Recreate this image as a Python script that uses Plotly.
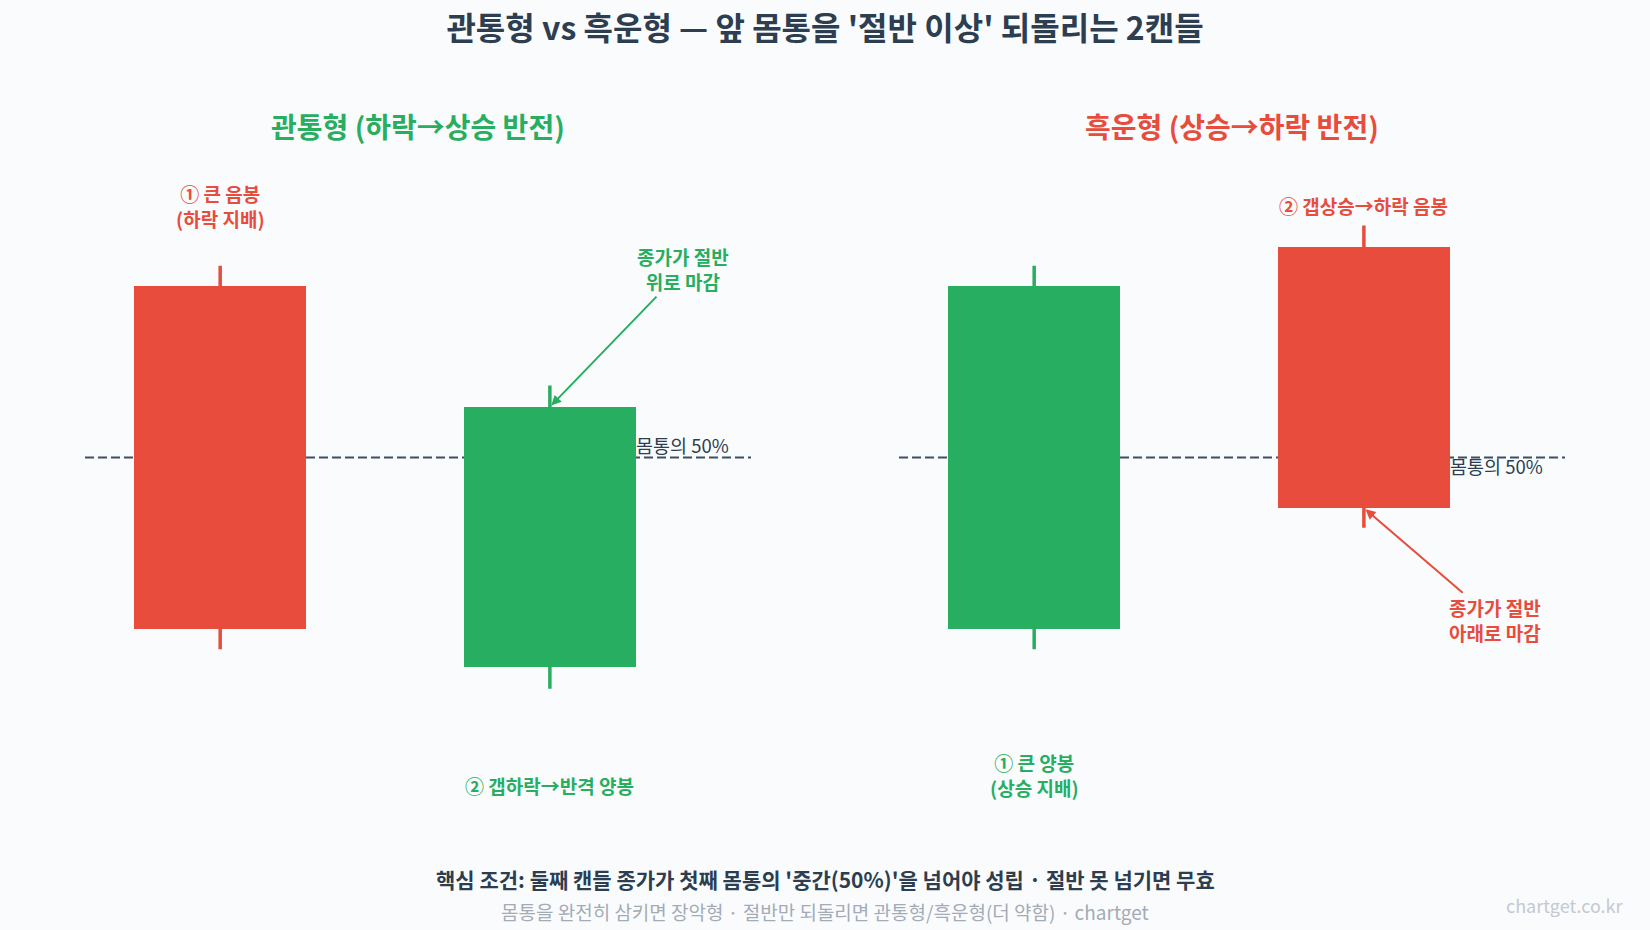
import plotly.graph_objects as go
from plotly.subplots import make_subplots

# ---- data ----
piercing_labels = ["① 큰 음봉<br>(하락 지배)", "② 갭하락→반격 양봉"]
piercing_open = [100.0, 77.75]
piercing_high = [101.2, 94.2]
piercing_low = [78.8, 76.5]
piercing_close = [80.0, 92.95]

darkcloud_labels = ["① 큰 양봉<br>(상승 지배)", "② 갭상승→하락 음봉"]
darkcloud_open = [80.0, 102.3]
darkcloud_high = [101.2, 103.55]
darkcloud_low = [78.8, 85.9]
darkcloud_close = [100.0, 87.05]

RED = "#e74c3c"
GREEN = "#27ae60"
DARK = "#2c3e50"
LINE = "#3d4f63"
FONT = "Noto Sans CJK KR"

fig = make_subplots(rows=1, cols=2, horizontal_spacing=0.1,
                    subplot_titles=["관통형 (하락→상승 반전)", "흑운형 (상승→하락 반전)"])


def add_candles(o, h, l, c, col):
    for i in range(len(o)):
        color = GREEN if c[i] >= o[i] else RED
        fig.add_trace(go.Bar(x=[i], y=[abs(c[i] - o[i])], base=[min(o[i], c[i])], width=0.52,
                             marker=dict(color=color, line=dict(width=0)), showlegend=False,
                             hoverinfo="skip"), row=1, col=col)
        fig.add_trace(go.Scatter(x=[i, i], y=[l[i], max(o[i], c[i])], mode="lines",
                                 line=dict(color=color, width=3.5), showlegend=False,
                                 hoverinfo="skip"), row=1, col=col)
        fig.add_trace(go.Scatter(x=[i, i], y=[min(o[i], c[i]), h[i]], mode="lines",
                                 line=dict(color=color, width=3.5), showlegend=False,
                                 hoverinfo="skip"), row=1, col=col)


add_candles(piercing_open, piercing_high, piercing_low, piercing_close, 1)
add_candles(darkcloud_open, darkcloud_high, darkcloud_low, darkcloud_close, 2)

mid_left = (piercing_open[0] + piercing_close[0]) / 2
mid_right = (darkcloud_open[0] + darkcloud_close[0]) / 2

for xr, yr, mid in [("x domain", "y", mid_left), ("x2 domain", "y2", mid_right)]:
    fig.add_shape(type="line", xref=xr, yref=yr, x0=0, x1=1, y0=mid, y1=mid,
                  line=dict(color=LINE, width=2, dash="9px,4px"), layer="below")

XR = [-0.41, 1.61]
YR = [70, 110]
for ax in ["xaxis", "xaxis2"]:
    fig.layout[ax].update(range=XR, visible=False, fixedrange=True)
for ax in ["yaxis", "yaxis2"]:
    fig.layout[ax].update(range=YR, visible=False, fixedrange=True)

W, H = 1650, 930
ML, MR, MT, MB = 85, 85, 115, 130
PW, PH = W - ML - MR, H - MT - MB

# subplot title styling
fig.layout.annotations[0].update(font=dict(size=28, color=GREEN, family=FONT, weight="bold"))
fig.layout.annotations[1].update(font=dict(size=28, color=RED, family=FONT, weight="bold"))
for a in fig.layout.annotations:
    a.update(yref="paper", y=(H - MB - 126) / PH, yanchor="middle", yshift=0)

AF = 19
ann = []
# candle labels
ann.append(dict(x=0, y=104.7, xref="x", yref="y", text=piercing_labels[0], showarrow=False,
                font=dict(size=AF, color=RED, family=FONT, weight="bold"), yanchor="middle"))
ann.append(dict(x=1, y=70.85, xref="x", yref="y", text=piercing_labels[1], showarrow=False,
                font=dict(size=AF, color=GREEN, family=FONT, weight="bold"), yanchor="middle"))
ann.append(dict(x=0, y=71.45, xref="x2", yref="y2", text=darkcloud_labels[0], showarrow=False,
                font=dict(size=AF, color=GREEN, family=FONT, weight="bold"), yanchor="middle"))
ann.append(dict(x=1, y=104.7, xref="x2", yref="y2", text=darkcloud_labels[1], showarrow=False,
                font=dict(size=AF, color=RED, family=FONT, weight="bold"), yanchor="middle"))
# 50% labels
ann.append(dict(x=1.55, y=mid_left, xref="x", yref="y", text="몸통의 50%", showarrow=False,
                xanchor="right", yanchor="bottom", yshift=-2, font=dict(size=18.5, color=DARK, family=FONT)))
ann.append(dict(x=1.55, y=mid_right, xref="x2", yref="y2", text="몸통의 50%", showarrow=False,
                xanchor="right", yanchor="top", yshift=7, font=dict(size=18.5, color=DARK, family=FONT)))
# arrows (tail offsets in axis units)
ann.append(dict(x=1, y=piercing_close[1], xref="x", yref="y", text="종가가 절반<br>위로 마감",
                showarrow=True, ax=1.404, ay=101.0, axref="x", ayref="y",
                arrowhead=2, arrowsize=1, arrowwidth=2, arrowcolor=GREEN, standoff=2,
                font=dict(size=AF, color=GREEN, family=FONT, weight="bold")))
ann.append(dict(x=1, y=darkcloud_close[1], xref="x2", yref="y2", text="종가가 절반<br>아래로 마감",
                showarrow=True, ax=1.397, ay=80.5, axref="x2", ayref="y2",
                arrowhead=2, arrowsize=1, arrowwidth=2, arrowcolor=RED, standoff=2,
                font=dict(size=AF, color=RED, family=FONT, weight="bold")))
# footer
ann.append(dict(x=0.5, y=879, xref="paper", yref="paper", yanchor="middle",
                text="<b>핵심 조건: 둘째 캔들 종가가 첫째 몸통의 '중간(50%)'을 넘어야 성립 · 절반 못 넘기면 무효</b>",
                showarrow=False, font=dict(size=21, color=DARK, family=FONT)))
ann.append(dict(x=0.5, y=912, xref="paper", yref="paper", yanchor="middle",
                text="몸통을 완전히 삼키면 장악형 · 절반만 되돌리면 관통형/흑운형(더 약함) · chartget",
                showarrow=False, font=dict(size=19, color="#a3abb7", family=FONT)))
ann.append(dict(x=1626, y=905, xref="paper", yref="paper", yanchor="middle", text="chartget.co.kr",
                showarrow=False, xanchor="right", font=dict(size=18, color="#c4c9d2", family=FONT)))

for a in ann:
    if a.get("xref") == "paper" and a["x"] > 1:
        a["x"] = (a["x"] - ML) / PW
    if a.get("yref") == "paper" and a["y"] > 1:
        a["y"] = (H - MB - a["y"]) / PH
    fig.add_annotation(**a)

fig.update_layout(
    width=W, height=H,
    margin=dict(l=ML, r=MR, t=MT, b=MB),
    paper_bgcolor="#fafbfd", plot_bgcolor="#fafbfd",
    bargap=0, barmode="overlay",
    title=dict(text="<b>관통형 vs 흑운형 — 앞 몸통을 '절반 이상' 되돌리는 2캔들</b>",
               x=0.5, xanchor="center", y=1 - 29 / H, yanchor="middle",
               font=dict(size=32, color=DARK, family=FONT)),
    font=dict(family=FONT),
    showlegend=False,
)

fig.write_html("out.html")
